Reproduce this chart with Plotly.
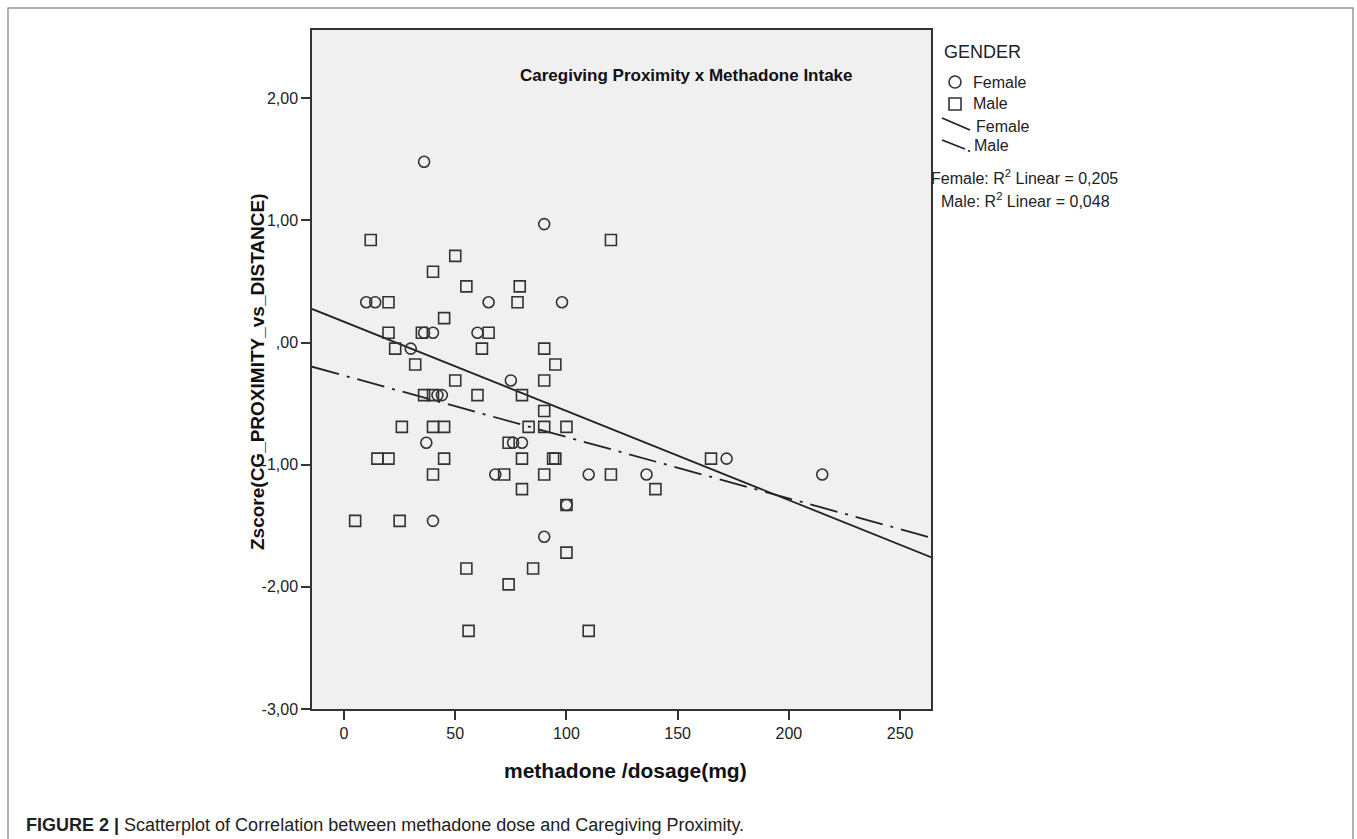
import plotly.graph_objects as go

# ---------------- data ----------------
female_dose = [36, 90, 10, 14, 65, 98, 36, 40, 60, 30, 75, 42, 44, 37, 76, 80,
               68, 110, 136, 172, 215, 40, 90, 100]
female_z = [1.48, 0.97, 0.33, 0.33, 0.33, 0.33, 0.08, 0.08, 0.08, -0.05, -0.31,
            -0.43, -0.43, -0.82, -0.82, -0.82, -1.08, -1.08, -1.08, -0.95, -1.08,
            -1.46, -1.59, -1.33]

male_dose = [12, 120, 50, 40, 55, 79, 20, 78, 45, 20, 35, 65, 23, 62, 90, 32, 95,
             50, 90, 36, 40, 60, 80, 90, 26, 40, 45, 83, 90, 100, 74, 15, 20, 45,
             80, 94, 95, 165, 40, 72, 90, 120, 80, 140, 100, 5, 25, 100, 55, 85,
             74, 56, 110]
male_z = [0.84, 0.84, 0.71, 0.58, 0.46, 0.46, 0.33, 0.33, 0.20, 0.08, 0.08, 0.08,
          -0.05, -0.05, -0.05, -0.18, -0.18, -0.31, -0.31, -0.43, -0.43, -0.43,
          -0.43, -0.56, -0.69, -0.69, -0.69, -0.69, -0.69, -0.69, -0.82, -0.95,
          -0.95, -0.95, -0.95, -0.95, -0.95, -0.95, -1.08, -1.08, -1.08, -1.08,
          -1.20, -1.20, -1.33, -1.46, -1.46, -1.72, -1.85, -1.85, -1.98, -2.36,
          -2.36]

# linear fits (intercept, slope) as shown in the picture
female_fit = (0.17, -0.0073)
male_fit = (-0.27, -0.00503)

x_tick_vals = [0, 50, 100, 150, 200, 250]
x_tick_text = ["0", "50", "100", "150", "200", "250"]
y_tick_vals = [-3, -2, -1, 0, 1, 2]
y_tick_text = ["-3,00", "-2,00", "-1,00", ",00", "1,00", "2,00"]
x_range = [-14.4, 263.9]
y_range = [-3.0, 2.559]

# ---------------- figure ----------------
W, H = 1357, 839
L, R, T, B = 312, 426, 30, 130
PW, PH = W - L - R, H - T - B
FONT = "Arial, Liberation Sans, sans-serif"
INK = "#333333"


def px(x):
    return (x - L) / PW


def py(y):
    return (H - B - y) / PH


fit_x = list(x_range)
female_fit_y = [female_fit[0] + female_fit[1] * v for v in fit_x]
male_fit_y = [male_fit[0] + male_fit[1] * v for v in fit_x]

fig = go.Figure()
fig.add_trace(go.Scatter(x=fit_x, y=female_fit_y, mode="lines", name="Female",
                         line=dict(color="#222222", width=1.8), hoverinfo="skip"))
fig.add_trace(go.Scatter(x=fit_x, y=male_fit_y, mode="lines", name="Male",
                         line=dict(color="#222222", width=1.8,
                                   dash="28px,8px,3px,8px"), hoverinfo="skip"))
fig.add_trace(go.Scatter(x=female_dose, y=female_z, mode="markers", name="Female",
                         marker=dict(symbol="circle-open", size=11, color=INK,
                                     line=dict(width=1.6, color=INK))))
fig.add_trace(go.Scatter(x=male_dose, y=male_z, mode="markers", name="Male",
                         marker=dict(symbol="square-open", size=11, color=INK,
                                     line=dict(width=1.6, color=INK))))

ann = []
# chart title inside plot
ann.append(dict(text="<b>Caregiving Proximity x Methadone Intake</b>", x=px(686), y=py(75),
                xref="paper", yref="paper", xanchor="center", yanchor="middle",
                showarrow=False, font=dict(size=17, color="#111111", family=FONT)))
# axis titles
ann.append(dict(text="<b>Zscore(CG_PROXIMITY_vs_DISTANCE)</b>", x=px(257), y=py(372),
                xref="paper", yref="paper", xanchor="center", yanchor="middle",
                textangle=-90, showarrow=False,
                font=dict(size=19, color="#111111", family=FONT)))
ann.append(dict(text="<b>methadone /dosage(mg)</b>", x=px(625), y=py(771),
                xref="paper", yref="paper", xanchor="center", yanchor="middle",
                showarrow=False, font=dict(size=21, color="#111111", family=FONT)))
# legend texts
ann.append(dict(text="GENDER", x=px(942), y=py(52), xref="paper", yref="paper",
                xanchor="left", yanchor="middle", showarrow=False,
                font=dict(size=18, color="#222222", family=FONT)))
for label, yy, xx in [("Female", 83, 971), ("Male", 104, 971),
                      ("Female", 126, 974), ("Male", 146, 972)]:
    ann.append(dict(text=label, x=px(xx), y=py(yy), xref="paper", yref="paper",
                    xanchor="left", yanchor="middle", showarrow=False,
                    font=dict(size=16, color="#222222", family=FONT)))
ann.append(dict(text="Female: R<sup>2</sup> Linear = 0,205", x=px(929), y=py(177),
                xref="paper", yref="paper", xanchor="left", yanchor="middle",
                showarrow=False, font=dict(size=16, color="#222222", family=FONT)))
ann.append(dict(text="Male: R<sup>2</sup> Linear = 0,048", x=px(939), y=py(200),
                xref="paper", yref="paper", xanchor="left", yanchor="middle",
                showarrow=False, font=dict(size=16, color="#222222", family=FONT)))
# caption
ann.append(dict(text="<b>FIGURE 2 |</b> Scatterplot of Correlation between methadone dose and Caregiving Proximity.",
                x=px(24), y=py(825), xref="paper", yref="paper", xanchor="left",
                yanchor="middle", showarrow=False,
                font=dict(size=18, color="#222222", family=FONT)))

shapes = []
# outer frame
shapes.append(dict(type="rect", xref="paper", yref="paper", x0=px(8), x1=px(1353),
                   y0=py(860), y1=py(8), line=dict(color="#9a9a9a", width=1.5),
                   fillcolor="rgba(0,0,0,0)", layer="below"))
# legend glyphs
shapes.append(dict(type="circle", xref="paper", yref="paper", x0=px(949), x1=px(961),
                   y0=py(88), y1=py(76), line=dict(color=INK, width=1.6)))
shapes.append(dict(type="rect", xref="paper", yref="paper", x0=px(949), x1=px(961),
                   y0=py(110), y1=py(98), line=dict(color=INK, width=1.6)))
shapes.append(dict(type="line", xref="paper", yref="paper", x0=px(942), x1=px(970),
                   y0=py(118), y1=py(130), line=dict(color="#222222", width=1.8)))
shapes.append(dict(type="line", xref="paper", yref="paper", x0=px(942), x1=px(965),
                   y0=py(140), y1=py(149), line=dict(color="#222222", width=1.8)))
shapes.append(dict(type="line", xref="paper", yref="paper", x0=px(968), x1=px(970),
                   y0=py(150.5), y1=py(151.5), line=dict(color="#222222", width=1.8)))

axis_common = dict(showline=True, mirror=True, linecolor=INK, linewidth=1.5,
                   ticks="outside", ticklen=9, tickwidth=1.5, tickcolor=INK,
                   showgrid=False, zeroline=False,
                   tickfont=dict(size=16, color="#222222", family=FONT))

fig.update_layout(
    width=W, height=H,
    margin=dict(l=L, r=R, t=T, b=B, pad=0),
    paper_bgcolor="white",
    plot_bgcolor="#F0F0F0",
    showlegend=False,
    font=dict(family=FONT),
    xaxis=dict(range=x_range, tickvals=x_tick_vals, ticktext=x_tick_text, **axis_common),
    yaxis=dict(range=y_range, tickvals=y_tick_vals, ticktext=y_tick_text, **axis_common),
    annotations=ann,
    shapes=shapes,
)

fig.write_html("out.html", config={"displayModeBar": False},
               post_script="document.body.style.margin='0';document.body.style.overflow='hidden';")
